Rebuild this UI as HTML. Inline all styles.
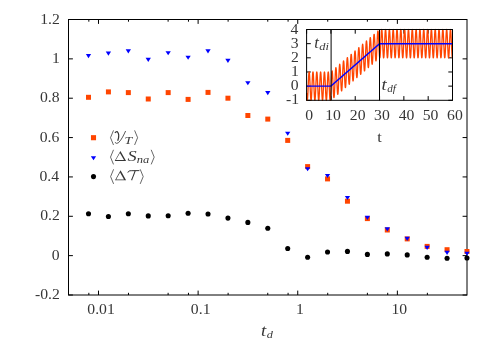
<!DOCTYPE html>
<html><head><meta charset="utf-8"><title>plot</title>
<style>
html,body{margin:0;padding:0;background:#fff;}
body{width:491px;height:344px;overflow:hidden;}
svg{display:block;will-change:transform;}
text{font-family:"Liberation Serif",serif;font-size:14.67px;fill:#363636;}
.i{font-style:italic;}
</style></head><body>
<svg width="491" height="344" viewBox="0 0 491 344">
<rect x="0" y="0" width="491" height="344" fill="#fff"/>
<g stroke="#000" stroke-width="1" fill="none">
<rect x="68.5" y="19.5" width="398.5" height="275.5"/>
<path d="M68.5 295.00h4.4M467.0 295.00h-4.4"/>
<path d="M68.5 255.64h4.4M467.0 255.64h-4.4"/>
<path d="M68.5 216.29h4.4M467.0 216.29h-4.4"/>
<path d="M68.5 176.93h4.4M467.0 176.93h-4.4"/>
<path d="M68.5 137.57h4.4M467.0 137.57h-4.4"/>
<path d="M68.5 98.21h4.4M467.0 98.21h-4.4"/>
<path d="M68.5 58.86h4.4M467.0 58.86h-4.4"/>
<path d="M68.5 19.50h4.4M467.0 19.50h-4.4"/>
<path d="M88.84 295.0v-2.2M88.84 19.5v2.2"/>
<path d="M98.49 295.0v-4.4M98.49 19.5v4.4"/>
<path d="M128.48 295.0v-2.2M128.48 19.5v2.2"/>
<path d="M168.12 295.0v-2.2M168.12 19.5v2.2"/>
<path d="M188.46 295.0v-2.2M188.46 19.5v2.2"/>
<path d="M198.12 295.0v-4.4M198.12 19.5v4.4"/>
<path d="M228.11 295.0v-2.2M228.11 19.5v2.2"/>
<path d="M267.75 295.0v-2.2M267.75 19.5v2.2"/>
<path d="M288.09 295.0v-2.2M288.09 19.5v2.2"/>
<path d="M297.74 295.0v-4.4M297.74 19.5v4.4"/>
<path d="M327.73 295.0v-2.2M327.73 19.5v2.2"/>
<path d="M367.38 295.0v-2.2M367.38 19.5v2.2"/>
<path d="M387.71 295.0v-2.2M387.71 19.5v2.2"/>
<path d="M397.37 295.0v-4.4M397.37 19.5v4.4"/>
<path d="M427.36 295.0v-2.2M427.36 19.5v2.2"/>
</g>
<text transform="translate(34.96 299.10) scale(1.070 1.05)" style="font-size:14.67px">-0.2</text>
<text transform="translate(51.68 259.74) scale(1.070 1.05)" style="font-size:14.67px">0</text>
<text transform="translate(40.14 220.39) scale(1.070 1.05)" style="font-size:14.67px">0.2</text>
<text transform="translate(39.51 181.03) scale(1.070 1.05)" style="font-size:14.67px">0.4</text>
<text transform="translate(39.75 141.67) scale(1.070 1.05)" style="font-size:14.67px">0.6</text>
<text transform="translate(39.91 102.31) scale(1.070 1.05)" style="font-size:14.67px">0.8</text>
<text transform="translate(51.99 62.96) scale(1.070 1.05)" style="font-size:14.67px">1</text>
<text transform="translate(40.14 23.60) scale(1.070 1.05)" style="font-size:14.67px">1.2</text>
<text transform="translate(87.31 314.00) scale(1.070 1.05)" style="font-size:14.67px">0.01</text>
<text transform="translate(190.86 314.00) scale(1.070 1.05)" style="font-size:14.67px">0.1</text>
<text transform="translate(295.98 314.00) scale(1.070 1.05)" style="font-size:14.67px">1</text>
<text transform="translate(391.52 314.00) scale(1.070 1.05)" style="font-size:14.67px">10</text>
<text transform="translate(261.05 336.30) scale(1.282 1.14)" style="font-size:14.67px" class="i">t</text>
<text transform="translate(266.83 338.40) scale(1.175 1)" style="font-size:10.5px" class="i">d</text>
<g fill="#ff4500">
<rect x="86.00" y="94.80" width="5" height="5"/>
<rect x="105.92" y="89.40" width="5" height="5"/>
<rect x="125.84" y="90.10" width="5" height="5"/>
<rect x="145.76" y="96.50" width="5" height="5"/>
<rect x="165.68" y="90.10" width="5" height="5"/>
<rect x="185.60" y="96.90" width="5" height="5"/>
<rect x="205.52" y="89.90" width="5" height="5"/>
<rect x="225.44" y="95.70" width="5" height="5"/>
<rect x="245.36" y="113.00" width="5" height="5"/>
<rect x="265.28" y="116.60" width="5" height="5"/>
<rect x="285.20" y="137.90" width="5" height="5"/>
<rect x="305.12" y="164.10" width="5" height="5"/>
<rect x="325.04" y="176.40" width="5" height="5"/>
<rect x="344.96" y="198.70" width="5" height="5"/>
<rect x="364.88" y="216.10" width="5" height="5"/>
<rect x="384.80" y="227.50" width="5" height="5"/>
<rect x="404.72" y="236.40" width="5" height="5"/>
<rect x="424.64" y="243.90" width="5" height="5"/>
<rect x="444.56" y="247.20" width="5" height="5"/>
<rect x="464.48" y="249.00" width="5" height="5"/>
</g>
<g fill="#0000ff">
<path d="M85.85 54.05h5.3L88.50 58.15z"/>
<path d="M105.77 51.55h5.3L108.42 55.65z"/>
<path d="M125.69 49.35h5.3L128.34 53.45z"/>
<path d="M145.61 57.85h5.3L148.26 61.95z"/>
<path d="M165.53 51.25h5.3L168.18 55.35z"/>
<path d="M185.45 55.65h5.3L188.10 59.75z"/>
<path d="M205.37 49.35h5.3L208.02 53.45z"/>
<path d="M225.29 58.85h5.3L227.94 62.95z"/>
<path d="M245.21 81.15h5.3L247.86 85.25z"/>
<path d="M265.13 91.05h5.3L267.78 95.15z"/>
<path d="M285.05 131.75h5.3L287.70 135.85z"/>
<path d="M304.97 167.25h5.3L307.62 171.35z"/>
<path d="M324.89 173.95h5.3L327.54 178.05z"/>
<path d="M344.81 195.95h5.3L347.46 200.05z"/>
<path d="M364.73 215.85h5.3L367.38 219.95z"/>
<path d="M384.65 227.35h5.3L387.30 231.45z"/>
<path d="M404.57 236.85h5.3L407.22 240.95z"/>
<path d="M424.49 245.85h5.3L427.14 249.95z"/>
<path d="M444.41 250.85h5.3L447.06 254.95z"/>
<path d="M464.33 251.75h5.3L466.98 255.85z"/>
</g>
<g fill="#000">
<circle cx="88.50" cy="213.80" r="2.55"/>
<circle cx="108.42" cy="216.50" r="2.55"/>
<circle cx="128.34" cy="213.80" r="2.55"/>
<circle cx="148.26" cy="215.90" r="2.55"/>
<circle cx="168.18" cy="215.70" r="2.55"/>
<circle cx="188.10" cy="213.20" r="2.55"/>
<circle cx="208.02" cy="214.05" r="2.55"/>
<circle cx="227.94" cy="218.10" r="2.55"/>
<circle cx="247.86" cy="222.40" r="2.55"/>
<circle cx="267.78" cy="228.30" r="2.55"/>
<circle cx="287.70" cy="248.50" r="2.55"/>
<circle cx="307.62" cy="257.30" r="2.55"/>
<circle cx="327.54" cy="252.00" r="2.55"/>
<circle cx="347.46" cy="251.40" r="2.55"/>
<circle cx="367.38" cy="254.40" r="2.55"/>
<circle cx="387.30" cy="253.90" r="2.55"/>
<circle cx="407.22" cy="254.90" r="2.55"/>
<circle cx="427.14" cy="257.20" r="2.55"/>
<circle cx="447.06" cy="258.20" r="2.55"/>
<circle cx="466.98" cy="258.00" r="2.55"/>
</g>
<rect x="90.95" y="135.14999999999998" width="5.1" height="5.1" fill="#ff4500"/>
<g fill="#0000ff"><path d="M90.85 156.15h5.3L93.50 160.25z"/></g>
<circle cx="93.5" cy="176.6" r="2.55" fill="#000"/>
<g stroke="#363636" stroke-width="0.75" fill="none" stroke-linejoin="miter">
<path d="M113.50 130.40L110.50 137.70L113.50 145.00"/>
<path d="M134.60 130.40L137.60 137.70L134.60 145.00"/>
<path d="M113.50 149.80L110.50 157.10L113.50 164.40"/>
<path d="M151.20 149.80L154.20 157.10L151.20 164.40"/>
<path d="M113.60 169.30L110.60 176.60L113.60 183.90"/>
<path d="M140.20 169.30L143.20 176.60L140.20 183.90"/>
<path d="M114.9 132.9Q115.9 131.4 117.2 131.6C118.7 133 119.1 137 117.7 140.8" stroke-width="1.25"/>
<path d="M125.6 131.0C124 134.5 121.5 140 118.5 142.7Q116.6 144.2 114.9 142.4" stroke-width="0.85"/>
<path d="M127.9 172.6C128.2 171.1 129.4 170.7 131.2 170.7L139.4 170.6" stroke-width="1.0"/>
<path d="M135.2 170.7C134.4 173.6 132.6 177.4 131.6 180.2" stroke-width="1.1"/>
</g>
<path fill="#363636" stroke="none" fill-rule="evenodd" d="M114.70 160.90L120.40 150.90L126.10 160.90ZM115.88 160.05L119.92 152.96L123.97 160.05Z"/>
<path fill="#363636" stroke="none" fill-rule="evenodd" d="M115.00 180.30L120.55 170.30L126.10 180.30ZM116.17 179.45L120.08 172.42L123.98 179.45Z"/>
<text transform="translate(124.50 143.90) scale(1.316 1)" style="font-size:10.5px" class="i">T</text>
<text transform="translate(127.62 160.90) scale(1.249 1)" style="font-size:14.67px" class="i">S</text>
<text transform="translate(136.66 162.90) scale(1.194 1)" style="font-size:10.5px" class="i">na</text>
<g stroke="#000" stroke-width="1" fill="none">
<path d="M306.6 100.30h4.2M452.5 100.30h-4.2"/>
<path d="M306.6 86.14h4.2M452.5 86.14h-4.2"/>
<path d="M306.6 71.98h4.2M452.5 71.98h-4.2"/>
<path d="M306.6 57.82h4.2M452.5 57.82h-4.2"/>
<path d="M306.6 43.66h4.2M452.5 43.66h-4.2"/>
<path d="M306.6 29.50h4.2M452.5 29.50h-4.2"/>
<path d="M306.60 100.3v-4.2M306.60 29.5v4.2"/>
<path d="M330.92 100.3v-4.2M330.92 29.5v4.2"/>
<path d="M355.23 100.3v-4.2M355.23 29.5v4.2"/>
<path d="M379.55 100.3v-4.2M379.55 29.5v4.2"/>
<path d="M403.87 100.3v-4.2M403.87 29.5v4.2"/>
<path d="M428.18 100.3v-4.2M428.18 29.5v4.2"/>
<path d="M452.50 100.3v-4.2M452.50 29.5v4.2"/>
</g>
<path d="M306.60 93.08 L306.66 94.28 L306.72 95.40 L306.78 96.42 L306.84 97.34 L306.90 98.15 L306.96 98.84 L307.03 99.40 L307.09 99.83 L307.15 100.12 L307.21 100.28 L307.27 100.29 L307.33 100.16 L307.39 99.89 L307.45 99.48 L307.51 98.94 L307.57 98.27 L307.63 97.48 L307.69 96.58 L307.76 95.57 L307.82 94.47 L307.88 93.29 L307.94 92.03 L308.00 90.72 L308.06 89.36 L308.12 87.96 L308.18 86.55 L308.24 85.14 L308.30 83.73 L308.36 82.35 L308.42 81.01 L308.48 79.72 L308.55 78.49 L308.61 77.34 L308.67 76.27 L308.73 75.31 L308.79 74.45 L308.85 73.71 L308.91 73.10 L308.97 72.61 L309.03 72.26 L309.09 72.05 L309.15 71.98 L309.21 72.05 L309.27 72.26 L309.34 72.61 L309.40 73.10 L309.46 73.71 L309.52 74.45 L309.58 75.31 L309.64 76.27 L309.70 77.34 L309.76 78.49 L309.82 79.72 L309.88 81.01 L309.94 82.35 L310.00 83.73 L310.07 85.14 L310.13 86.55 L310.19 87.96 L310.25 89.36 L310.31 90.72 L310.37 92.03 L310.43 93.29 L310.49 94.47 L310.55 95.57 L310.61 96.58 L310.67 97.48 L310.73 98.27 L310.79 98.94 L310.86 99.48 L310.92 99.89 L310.98 100.16 L311.04 100.29 L311.10 100.28 L311.16 100.12 L311.22 99.83 L311.28 99.40 L311.34 98.84 L311.40 98.15 L311.46 97.34 L311.52 96.42 L311.58 95.40 L311.65 94.28 L311.71 93.08 L311.77 91.82 L311.83 90.49 L311.89 89.12 L311.95 87.73 L312.01 86.32 L312.07 84.90 L312.13 83.50 L312.19 82.12 L312.25 80.79 L312.31 79.51 L312.38 78.29 L312.44 77.15 L312.50 76.11 L312.56 75.16 L312.62 74.32 L312.68 73.60 L312.74 73.01 L312.80 72.54 L312.86 72.22 L312.92 72.03 L312.98 71.98 L313.04 72.08 L313.10 72.31 L313.17 72.68 L313.23 73.19 L313.29 73.83 L313.35 74.59 L313.41 75.46 L313.47 76.45 L313.53 77.53 L313.59 78.69 L313.65 79.93 L313.71 81.23 L313.77 82.58 L313.83 83.97 L313.90 85.38 L313.96 86.79 L314.02 88.20 L314.08 89.59 L314.14 90.94 L314.20 92.25 L314.26 93.49 L314.32 94.66 L314.38 95.75 L314.44 96.74 L314.50 97.63 L314.56 98.39 L314.62 99.04 L314.69 99.56 L314.75 99.94 L314.81 100.19 L314.87 100.30 L314.93 100.26 L314.99 100.08 L315.05 99.77 L315.11 99.31 L315.17 98.73 L315.23 98.02 L315.29 97.19 L315.35 96.25 L315.41 95.21 L315.48 94.08 L315.54 92.87 L315.60 91.60 L315.66 90.26 L315.72 88.89 L315.78 87.49 L315.84 86.08 L315.90 84.66 L315.96 83.27 L316.02 81.90 L316.08 80.57 L316.14 79.30 L316.21 78.09 L316.27 76.97 L316.33 75.94 L316.39 75.01 L316.45 74.19 L316.51 73.49 L316.57 72.92 L316.63 72.48 L316.69 72.18 L316.75 72.01 L316.81 71.99 L316.87 72.11 L316.93 72.36 L317.00 72.76 L317.06 73.29 L317.12 73.95 L317.18 74.73 L317.24 75.62 L317.30 76.62 L317.36 77.72 L317.42 78.89 L317.48 80.15 L317.54 81.46 L317.60 82.81 L317.66 84.20 L317.72 85.61 L317.79 87.03 L317.85 88.44 L317.91 89.82 L317.97 91.17 L318.03 92.46 L318.09 93.70 L318.15 94.85 L318.21 95.92 L318.27 96.90 L318.33 97.76 L318.39 98.51 L318.45 99.14 L318.52 99.63 L318.58 99.99 L318.64 100.22 L318.70 100.30 L318.76 100.24 L318.82 100.04 L318.88 99.70 L318.94 99.23 L319.00 98.62 L319.06 97.89 L319.12 97.04 L319.18 96.09 L319.24 95.03 L319.31 93.89 L319.37 92.66 L319.43 91.38 L319.49 90.04 L319.55 88.66 L319.61 87.25 L319.67 85.84 L319.73 84.43 L319.79 83.03 L319.85 81.67 L319.91 80.35 L319.97 79.09 L320.03 77.90 L320.10 76.79 L320.16 75.78 L320.22 74.86 L320.28 74.06 L320.34 73.39 L320.40 72.84 L320.46 72.42 L320.52 72.14 L320.58 72.00 L320.64 72.00 L320.70 72.14 L320.76 72.42 L320.83 72.84 L320.89 73.39 L320.95 74.07 L321.01 74.87 L321.07 75.78 L321.13 76.80 L321.19 77.91 L321.25 79.10 L321.31 80.36 L321.37 81.68 L321.43 83.05 L321.49 84.44 L321.55 85.85 L321.62 87.27 L321.68 88.67 L321.74 90.05 L321.80 91.39 L321.86 92.67 L321.92 93.90 L321.98 95.04 L322.04 96.09 L322.10 97.05 L322.16 97.90 L322.22 98.63 L322.28 99.23 L322.35 99.70 L322.41 100.04 L322.47 100.24 L322.53 100.30 L322.59 100.22 L322.65 99.99 L322.71 99.63 L322.77 99.13 L322.83 98.51 L322.89 97.76 L322.95 96.89 L323.01 95.92 L323.07 94.84 L323.14 93.68 L323.20 92.45 L323.26 91.15 L323.32 89.81 L323.38 88.42 L323.44 87.02 L323.50 85.60 L323.56 84.19 L323.62 82.80 L323.68 81.44 L323.74 80.13 L323.80 78.88 L323.86 77.71 L323.93 76.61 L323.99 75.61 L324.05 74.72 L324.11 73.94 L324.17 73.29 L324.23 72.76 L324.29 72.36 L324.35 72.10 L324.41 71.99 L324.47 72.01 L324.53 72.18 L324.59 72.48 L324.66 72.92 L324.72 73.50 L324.78 74.20 L324.84 75.02 L324.90 75.95 L324.96 76.98 L325.02 78.10 L325.08 79.31 L325.14 80.58 L325.20 81.91 L325.26 83.28 L325.32 84.68 L325.38 86.09 L325.45 87.50 L325.51 88.90 L325.57 90.28 L325.63 91.61 L325.69 92.88 L325.75 94.09 L325.81 95.22 L325.87 96.26 L325.93 97.20 L325.99 98.03 L326.05 98.74 L326.11 99.32 L326.17 99.77 L326.24 100.09 L326.30 100.26 L326.36 100.30 L326.42 100.19 L326.48 99.94 L326.54 99.56 L326.60 99.04 L326.66 98.39 L326.72 97.62 L326.78 96.73 L326.84 95.74 L326.90 94.65 L326.97 93.48 L327.03 92.24 L327.09 90.93 L327.15 89.58 L327.21 88.19 L327.27 86.78 L327.33 85.36 L327.39 83.96 L327.45 82.57 L327.51 81.22 L327.57 79.92 L327.63 78.68 L327.69 77.52 L327.76 76.44 L327.82 75.46 L327.88 74.58 L327.94 73.82 L328.00 73.19 L328.06 72.68 L328.12 72.31 L328.18 72.08 L328.24 71.98 L328.30 72.03 L328.36 72.22 L328.42 72.55 L328.49 73.01 L328.55 73.61 L328.61 74.33 L328.67 75.17 L328.73 76.11 L328.79 77.16 L328.85 78.30 L328.91 79.52 L328.97 80.80 L329.03 82.14 L329.09 83.51 L329.15 84.91 L329.21 86.33 L329.28 87.74 L329.34 89.14 L329.40 90.50 L329.46 91.83 L329.52 93.09 L329.58 94.29 L329.64 95.41 L329.70 96.43 L329.76 97.35 L329.82 98.16 L329.88 98.84 L329.94 99.40 L330.00 99.83 L330.07 100.12 L330.13 100.28 L330.19 100.29 L330.25 100.16 L330.31 99.89 L330.37 99.48 L330.43 98.94 L330.49 98.27 L330.55 97.48 L330.61 96.57 L330.67 95.57 L330.73 94.46 L330.80 93.28 L330.86 92.02 L330.92 90.71 L330.98 89.29 L331.04 87.85 L331.10 86.38 L331.16 84.91 L331.22 83.46 L331.28 82.02 L331.34 80.63 L331.40 79.28 L331.46 78.00 L331.52 76.80 L331.59 75.68 L331.65 74.66 L331.71 73.76 L331.77 72.96 L331.83 72.30 L331.89 71.76 L331.95 71.36 L332.01 71.09 L332.07 70.97 L332.13 70.99 L332.19 71.15 L332.25 71.45 L332.31 71.88 L332.38 72.45 L332.44 73.13 L332.50 73.94 L332.56 74.85 L332.62 75.86 L332.68 76.96 L332.74 78.14 L332.80 79.37 L332.86 80.67 L332.92 81.99 L332.98 83.35 L333.04 84.71 L333.11 86.07 L333.17 87.40 L333.23 88.71 L333.29 89.97 L333.35 91.18 L333.41 92.31 L333.47 93.35 L333.53 94.31 L333.59 95.16 L333.65 95.89 L333.71 96.50 L333.77 96.99 L333.83 97.34 L333.90 97.56 L333.96 97.63 L334.02 97.57 L334.08 97.36 L334.14 97.01 L334.20 96.53 L334.26 95.91 L334.32 95.17 L334.38 94.31 L334.44 93.33 L334.50 92.25 L334.56 91.08 L334.62 89.83 L334.69 88.51 L334.75 87.13 L334.81 85.71 L334.87 84.26 L334.93 82.80 L334.99 81.33 L335.05 79.88 L335.11 78.45 L335.17 77.06 L335.23 75.72 L335.29 74.46 L335.35 73.27 L335.42 72.17 L335.48 71.17 L335.54 70.28 L335.60 69.51 L335.66 68.86 L335.72 68.35 L335.78 67.97 L335.84 67.73 L335.90 67.63 L335.96 67.67 L336.02 67.85 L336.08 68.18 L336.14 68.63 L336.21 69.22 L336.27 69.92 L336.33 70.75 L336.39 71.68 L336.45 72.70 L336.51 73.82 L336.57 75.00 L336.63 76.25 L336.69 77.55 L336.75 78.88 L336.81 80.24 L336.87 81.60 L336.94 82.96 L337.00 84.29 L337.06 85.59 L337.12 86.84 L337.18 88.03 L337.24 89.15 L337.30 90.18 L337.36 91.12 L337.42 91.95 L337.48 92.67 L337.54 93.26 L337.60 93.72 L337.66 94.05 L337.73 94.24 L337.79 94.30 L337.85 94.21 L337.91 93.97 L337.97 93.60 L338.03 93.10 L338.09 92.46 L338.15 91.70 L338.21 90.81 L338.27 89.82 L338.33 88.73 L338.39 87.54 L338.45 86.28 L338.52 84.95 L338.58 83.56 L338.64 82.14 L338.70 80.68 L338.76 79.21 L338.82 77.75 L338.88 76.30 L338.94 74.87 L339.00 73.49 L339.06 72.17 L339.12 70.91 L339.18 69.74 L339.25 68.66 L339.31 67.67 L339.37 66.80 L339.43 66.05 L339.49 65.43 L339.55 64.94 L339.61 64.58 L339.67 64.36 L339.73 64.29 L339.79 64.36 L339.85 64.56 L339.91 64.91 L339.97 65.38 L340.04 65.99 L340.10 66.72 L340.16 67.56 L340.22 68.51 L340.28 69.55 L340.34 70.67 L340.40 71.87 L340.46 73.13 L340.52 74.44 L340.58 75.77 L340.64 77.13 L340.70 78.49 L340.76 79.85 L340.83 81.18 L340.89 82.47 L340.95 83.71 L341.01 84.89 L341.07 86.00 L341.13 87.01 L341.19 87.93 L341.25 88.74 L341.31 89.44 L341.37 90.01 L341.43 90.45 L341.49 90.76 L341.56 90.93 L341.62 90.95 L341.68 90.84 L341.74 90.59 L341.80 90.19 L341.86 89.66 L341.92 89.00 L341.98 88.22 L342.04 87.32 L342.10 86.31 L342.16 85.20 L342.22 84.00 L342.28 82.72 L342.35 81.38 L342.41 79.99 L342.47 78.56 L342.53 77.10 L342.59 75.63 L342.65 74.17 L342.71 72.72 L342.77 71.30 L342.83 69.93 L342.89 68.62 L342.95 67.37 L343.01 66.21 L343.08 65.15 L343.14 64.18 L343.20 63.33 L343.26 62.60 L343.32 62.00 L343.38 61.53 L343.44 61.20 L343.50 61.01 L343.56 60.95 L343.62 61.04 L343.68 61.27 L343.74 61.64 L343.80 62.14 L343.87 62.77 L343.93 63.52 L343.99 64.38 L344.05 65.34 L344.11 66.40 L344.17 67.53 L344.23 68.74 L344.29 70.01 L344.35 71.32 L344.41 72.66 L344.47 74.02 L344.53 75.38 L344.59 76.74 L344.66 78.06 L344.72 79.35 L344.78 80.58 L344.84 81.75 L344.90 82.84 L344.96 83.84 L345.02 84.74 L345.08 85.53 L345.14 86.21 L345.20 86.76 L345.26 87.18 L345.32 87.46 L345.39 87.60 L345.45 87.61 L345.51 87.47 L345.57 87.19 L345.63 86.78 L345.69 86.22 L345.75 85.54 L345.81 84.74 L345.87 83.82 L345.93 82.79 L345.99 81.66 L346.05 80.45 L346.11 79.16 L346.18 77.81 L346.24 76.41 L346.30 74.98 L346.36 73.52 L346.42 72.05 L346.48 70.59 L346.54 69.14 L346.60 67.73 L346.66 66.37 L346.72 65.07 L346.78 63.84 L346.84 62.69 L346.90 61.64 L346.97 60.70 L347.03 59.86 L347.09 59.16 L347.15 58.57 L347.21 58.13 L347.27 57.82 L347.33 57.65 L347.39 57.62 L347.45 57.74 L347.51 57.99 L347.57 58.38 L347.63 58.90 L347.70 59.55 L347.76 60.32 L347.82 61.19 L347.88 62.17 L347.94 63.25 L348.00 64.40 L348.06 65.62 L348.12 66.89 L348.18 68.21 L348.24 69.56 L348.30 70.92 L348.36 72.28 L348.42 73.62 L348.49 74.94 L348.55 76.22 L348.61 77.44 L348.67 78.60 L348.73 79.68 L348.79 80.66 L348.85 81.54 L348.91 82.32 L348.97 82.97 L349.03 83.50 L349.09 83.90 L349.15 84.16 L349.21 84.28 L349.28 84.26 L349.34 84.10 L349.40 83.80 L349.46 83.36 L349.52 82.78 L349.58 82.08 L349.64 81.26 L349.70 80.32 L349.76 79.27 L349.82 78.13 L349.88 76.90 L349.94 75.61 L350.01 74.25 L350.07 72.84 L350.13 71.40 L350.19 69.93 L350.25 68.47 L350.31 67.00 L350.37 65.57 L350.43 64.16 L350.49 62.81 L350.55 61.52 L350.61 60.30 L350.67 59.17 L350.73 58.14 L350.80 57.21 L350.86 56.40 L350.92 55.71 L350.98 55.15 L351.04 54.73 L351.10 54.44 L351.16 54.30 L351.22 54.30 L351.28 54.43 L351.34 54.71 L351.40 55.12 L351.46 55.66 L351.53 56.33 L351.59 57.12 L351.65 58.02 L351.71 59.01 L351.77 60.10 L351.83 61.26 L351.89 62.49 L351.95 63.77 L352.01 65.10 L352.07 66.45 L352.13 67.81 L352.19 69.17 L352.25 70.51 L352.32 71.82 L352.38 73.09 L352.44 74.31 L352.50 75.45 L352.56 76.51 L352.62 77.48 L352.68 78.35 L352.74 79.10 L352.80 79.73 L352.86 80.24 L352.92 80.61 L352.98 80.85 L353.04 80.95 L353.11 80.91 L353.17 80.72 L353.23 80.40 L353.29 79.93 L353.35 79.34 L353.41 78.61 L353.47 77.77 L353.53 76.81 L353.59 75.75 L353.65 74.59 L353.71 73.35 L353.77 72.04 L353.84 70.68 L353.90 69.26 L353.96 67.81 L354.02 66.35 L354.08 64.88 L354.14 63.42 L354.20 61.99 L354.26 60.60 L354.32 59.25 L354.38 57.97 L354.44 56.77 L354.50 55.65 L354.56 54.64 L354.63 53.73 L354.69 52.94 L354.75 52.27 L354.81 51.74 L354.87 51.34 L354.93 51.07 L354.99 50.95 L355.05 50.97 L355.11 51.13 L355.17 51.43 L355.23 51.87 L355.29 52.43 L355.35 53.12 L355.42 53.93 L355.48 54.84 L355.54 55.85 L355.60 56.95 L355.66 58.13 L355.72 59.37 L355.78 60.66 L355.84 61.99 L355.90 63.34 L355.96 64.70 L356.02 66.06 L356.08 67.40 L356.15 68.71 L356.21 69.97 L356.27 71.17 L356.33 72.30 L356.39 73.34 L356.45 74.30 L356.51 75.14 L356.57 75.88 L356.63 76.49 L356.69 76.98 L356.75 77.33 L356.81 77.54 L356.87 77.62 L356.94 77.55 L357.00 77.34 L357.06 76.99 L357.12 76.51 L357.18 75.89 L357.24 75.14 L357.30 74.28 L357.36 73.30 L357.42 72.22 L357.48 71.05 L357.54 69.80 L357.60 68.48 L357.67 67.10 L357.73 65.68 L357.79 64.23 L357.85 62.77 L357.91 61.30 L357.97 59.84 L358.03 58.42 L358.09 57.03 L358.15 55.69 L358.21 54.43 L358.27 53.24 L358.33 52.14 L358.39 51.14 L358.46 50.25 L358.52 49.48 L358.58 48.84 L358.64 48.32 L358.70 47.95 L358.76 47.71 L358.82 47.61 L358.88 47.65 L358.94 47.84 L359.00 48.16 L359.06 48.62 L359.12 49.20 L359.18 49.91 L359.25 50.74 L359.31 51.67 L359.37 52.69 L359.43 53.81 L359.49 55.00 L359.55 56.25 L359.61 57.54 L359.67 58.88 L359.73 60.23 L359.79 61.59 L359.85 62.95 L359.91 64.28 L359.98 65.58 L360.04 66.84 L360.10 68.03 L360.16 69.14 L360.22 70.17 L360.28 71.11 L360.34 71.94 L360.40 72.65 L360.46 73.25 L360.52 73.71 L360.58 74.04 L360.64 74.23 L360.70 74.28 L360.77 74.19 L360.83 73.95 L360.89 73.58 L360.95 73.07 L361.01 72.43 L361.07 71.67 L361.13 70.79 L361.19 69.79 L361.25 68.70 L361.31 67.51 L361.37 66.25 L361.43 64.92 L361.49 63.53 L361.56 62.10 L361.62 60.65 L361.68 59.18 L361.74 57.72 L361.80 56.27 L361.86 54.84 L361.92 53.46 L361.98 52.14 L362.04 50.89 L362.10 49.71 L362.16 48.63 L362.22 47.65 L362.29 46.78 L362.35 46.03 L362.41 45.40 L362.47 44.91 L362.53 44.56 L362.59 44.34 L362.65 44.27 L362.71 44.34 L362.77 44.55 L362.83 44.89 L362.89 45.37 L362.95 45.98 L363.01 46.71 L363.08 47.55 L363.14 48.50 L363.20 49.54 L363.26 50.67 L363.32 51.87 L363.38 53.12 L363.44 54.43 L363.50 55.77 L363.56 57.12 L363.62 58.49 L363.68 59.84 L363.74 61.17 L363.80 62.46 L363.87 63.70 L363.93 64.88 L363.99 65.99 L364.05 67.00 L364.11 67.92 L364.17 68.73 L364.23 69.43 L364.29 70.00 L364.35 70.44 L364.41 70.74 L364.47 70.91 L364.53 70.94 L364.60 70.82 L364.66 70.56 L364.72 70.17 L364.78 69.64 L364.84 68.98 L364.90 68.19 L364.96 67.29 L365.02 66.28 L365.08 65.17 L365.14 63.97 L365.20 62.69 L365.26 61.35 L365.32 59.96 L365.39 58.53 L365.45 57.07 L365.51 55.60 L365.57 54.14 L365.63 52.69 L365.69 51.27 L365.75 49.90 L365.81 48.59 L365.87 47.35 L365.93 46.19 L365.99 45.12 L366.05 44.16 L366.12 43.31 L366.18 42.58 L366.24 41.98 L366.30 41.51 L366.36 41.18 L366.42 40.99 L366.48 40.94 L366.54 41.03 L366.60 41.26 L366.66 41.63 L366.72 42.13 L366.78 42.76 L366.84 43.50 L366.91 44.37 L366.97 45.33 L367.03 46.39 L367.09 47.53 L367.15 48.74 L367.21 50.00 L367.27 51.32 L367.33 52.66 L367.39 54.02 L367.45 55.38 L367.51 56.73 L367.57 58.05 L367.63 59.34 L367.70 60.57 L367.76 61.74 L367.82 62.83 L367.88 63.83 L367.94 64.73 L368.00 65.52 L368.06 66.19 L368.12 66.74 L368.18 67.16 L368.24 67.44 L368.30 67.59 L368.36 67.59 L368.43 67.45 L368.49 67.17 L368.55 66.75 L368.61 66.20 L368.67 65.52 L368.73 64.71 L368.79 63.79 L368.85 62.76 L368.91 61.64 L368.97 60.42 L369.03 59.13 L369.09 57.78 L369.15 56.38 L369.22 54.95 L369.28 53.49 L369.34 52.02 L369.40 50.55 L369.46 49.11 L369.52 47.70 L369.58 46.34 L369.64 45.04 L369.70 43.81 L369.76 42.66 L369.82 41.61 L369.88 40.67 L369.94 39.84 L370.01 39.13 L370.07 38.55 L370.13 38.11 L370.19 37.80 L370.25 37.63 L370.31 37.60 L370.37 37.72 L370.43 37.97 L370.49 38.37 L370.55 38.89 L370.61 39.54 L370.67 40.31 L370.74 41.18 L370.80 42.17 L370.86 43.24 L370.92 44.39 L370.98 45.61 L371.04 46.89 L371.10 48.20 L371.16 49.55 L371.22 50.91 L371.28 52.27 L371.34 53.62 L371.40 54.94 L371.46 56.21 L371.53 57.44 L371.59 58.59 L371.65 59.67 L371.71 60.65 L371.77 61.53 L371.83 62.31 L371.89 62.96 L371.95 63.49 L372.01 63.88 L372.07 64.14 L372.13 64.26 L372.19 64.24 L372.25 64.08 L372.32 63.77 L372.38 63.33 L372.44 62.76 L372.50 62.06 L372.56 61.23 L372.62 60.29 L372.68 59.24 L372.74 58.10 L372.80 56.87 L372.86 55.58 L372.92 54.21 L372.98 52.81 L373.05 51.36 L373.11 49.90 L373.17 48.43 L373.23 46.97 L373.29 45.53 L373.35 44.13 L373.41 42.78 L373.47 41.49 L373.53 40.27 L373.59 39.14 L373.65 38.11 L373.71 37.19 L373.77 36.38 L373.84 35.69 L373.90 35.13 L373.96 34.71 L374.02 34.42 L374.08 34.28 L374.14 34.28 L374.20 34.42 L374.26 34.69 L374.32 35.11 L374.38 35.65 L374.44 36.32 L374.50 37.11 L374.57 38.01 L374.63 39.00 L374.69 40.09 L374.75 41.25 L374.81 42.48 L374.87 43.77 L374.93 45.09 L374.99 46.44 L375.05 47.80 L375.11 49.16 L375.17 50.50 L375.23 51.82 L375.29 53.09 L375.36 54.30 L375.42 55.44 L375.48 56.50 L375.54 57.47 L375.60 58.33 L375.66 59.09 L375.72 59.72 L375.78 60.23 L375.84 60.60 L375.90 60.83 L375.96 60.93 L376.02 60.89 L376.08 60.70 L376.15 60.37 L376.21 59.91 L376.27 59.31 L376.33 58.59 L376.39 57.74 L376.45 56.78 L376.51 55.72 L376.57 54.56 L376.63 53.32 L376.69 52.01 L376.75 50.64 L376.81 49.23 L376.88 47.78 L376.94 46.32 L377.00 44.85 L377.06 43.39 L377.12 41.96 L377.18 40.56 L377.24 39.22 L377.30 37.94 L377.36 36.74 L377.42 35.63 L377.48 34.61 L377.54 33.70 L377.60 32.91 L377.67 32.25 L377.73 31.71 L377.79 31.31 L377.85 31.05 L377.91 30.93 L377.97 30.96 L378.03 31.12 L378.09 31.42 L378.15 31.85 L378.21 32.42 L378.27 33.11 L378.33 33.92 L378.39 34.83 L378.46 35.84 L378.52 36.94 L378.58 38.12 L378.64 39.36 L378.70 40.65 L378.76 41.98 L378.82 43.33 L378.88 44.70 L378.94 46.05 L379.00 47.39 L379.06 48.70 L379.12 49.96 L379.19 51.16 L379.25 52.29 L379.31 53.33 L379.37 54.29 L379.43 55.13 L379.49 55.87 L379.55 56.48 L379.61 57.01 L379.67 57.42 L379.73 57.68 L379.79 57.81 L379.85 57.79 L379.91 57.64 L379.98 57.34 L380.04 56.91 L380.10 56.34 L380.16 55.65 L380.22 54.84 L380.28 53.91 L380.34 52.89 L380.40 51.77 L380.46 50.57 L380.52 49.30 L380.58 47.98 L380.64 46.61 L380.71 45.21 L380.77 43.80 L380.83 42.38 L380.89 40.98 L380.95 39.61 L381.01 38.27 L381.07 36.99 L381.13 35.78 L381.19 34.64 L381.25 33.60 L381.31 32.65 L381.37 31.82 L381.43 31.10 L381.50 30.51 L381.56 30.05 L381.62 29.73 L381.68 29.55 L381.74 29.50 L381.80 29.60 L381.86 29.84 L381.92 30.22 L381.98 30.73 L382.04 31.37 L382.10 32.13 L382.16 33.01 L382.22 33.99 L382.29 35.08 L382.35 36.24 L382.41 37.48 L382.47 38.79 L382.53 40.14 L382.59 41.53 L382.65 42.93 L382.71 44.35 L382.77 45.76 L382.83 47.15 L382.89 48.50 L382.95 49.80 L383.02 51.05 L383.08 52.21 L383.14 53.30 L383.20 54.29 L383.26 55.17 L383.32 55.93 L383.38 56.58 L383.44 57.09 L383.50 57.47 L383.56 57.71 L383.62 57.82 L383.68 57.78 L383.74 57.60 L383.81 57.28 L383.87 56.82 L383.93 56.23 L383.99 55.52 L384.05 54.69 L384.11 53.75 L384.17 52.71 L384.23 51.57 L384.29 50.36 L384.35 49.08 L384.41 47.75 L384.47 46.37 L384.53 44.97 L384.60 43.56 L384.66 42.15 L384.72 40.75 L384.78 39.38 L384.84 38.05 L384.90 36.78 L384.96 35.58 L385.02 34.46 L385.08 33.43 L385.14 32.51 L385.20 31.69 L385.26 31.00 L385.33 30.43 L385.39 29.99 L385.45 29.69 L385.51 29.53 L385.57 29.51 L385.63 29.63 L385.69 29.89 L385.75 30.29 L385.81 30.83 L385.87 31.49 L385.93 32.27 L385.99 33.17 L386.05 34.17 L386.12 35.27 L386.18 36.45 L386.24 37.70 L386.30 39.01 L386.36 40.37 L386.42 41.76 L386.48 43.17 L386.54 44.59 L386.60 45.99 L386.66 47.38 L386.72 48.72 L386.78 50.02 L386.85 51.25 L386.91 52.40 L386.97 53.47 L387.03 54.44 L387.09 55.30 L387.15 56.05 L387.21 56.67 L387.27 57.17 L387.33 57.52 L387.39 57.74 L387.45 57.82 L387.51 57.76 L387.57 57.55 L387.64 57.21 L387.70 56.73 L387.76 56.12 L387.82 55.39 L387.88 54.54 L387.94 53.58 L388.00 52.52 L388.06 51.37 L388.12 50.15 L388.18 48.86 L388.24 47.52 L388.30 46.14 L388.36 44.74 L388.43 43.32 L388.49 41.91 L388.55 40.52 L388.61 39.15 L388.67 37.84 L388.73 36.58 L388.79 35.39 L388.85 34.28 L388.91 33.27 L388.97 32.36 L389.03 31.57 L389.09 30.89 L389.16 30.34 L389.22 29.93 L389.28 29.65 L389.34 29.52 L389.40 29.52 L389.46 29.67 L389.52 29.95 L389.58 30.37 L389.64 30.93 L389.70 31.61 L389.76 32.41 L389.82 33.33 L389.88 34.35 L389.95 35.46 L390.01 36.65 L390.07 37.92 L390.13 39.24 L390.19 40.60 L390.25 42.00 L390.31 43.41 L390.37 44.82 L390.43 46.23 L390.49 47.60 L390.55 48.94 L390.61 50.23 L390.67 51.45 L390.74 52.59 L390.80 53.64 L390.86 54.59 L390.92 55.44 L390.98 56.16 L391.04 56.76 L391.10 57.23 L391.16 57.57 L391.22 57.76 L391.28 57.82 L391.34 57.73 L391.40 57.50 L391.47 57.14 L391.53 56.64 L391.59 56.01 L391.65 55.25 L391.71 54.38 L391.77 53.41 L391.83 52.33 L391.89 51.17 L391.95 49.94 L392.01 48.64 L392.07 47.29 L392.13 45.91 L392.19 44.50 L392.26 43.08 L392.32 41.67 L392.38 40.28 L392.44 38.93 L392.50 37.62 L392.56 36.37 L392.62 35.20 L392.68 34.10 L392.74 33.11 L392.80 32.22 L392.86 31.44 L392.92 30.79 L392.98 30.26 L393.05 29.87 L393.11 29.62 L393.17 29.51 L393.23 29.53 L393.29 29.70 L393.35 30.01 L393.41 30.46 L393.47 31.03 L393.53 31.74 L393.59 32.56 L393.65 33.49 L393.71 34.53 L393.78 35.65 L393.84 36.86 L393.90 38.13 L393.96 39.46 L394.02 40.83 L394.08 42.23 L394.14 43.65 L394.20 45.06 L394.26 46.46 L394.32 47.83 L394.38 49.16 L394.44 50.44 L394.50 51.65 L394.57 52.77 L394.63 53.81 L394.69 54.74 L394.75 55.57 L394.81 56.27 L394.87 56.85 L394.93 57.30 L394.99 57.61 L395.05 57.78 L395.11 57.81 L395.17 57.70 L395.23 57.45 L395.30 57.06 L395.36 56.54 L395.42 55.89 L395.48 55.12 L395.54 54.23 L395.60 53.23 L395.66 52.14 L395.72 50.97 L395.78 49.72 L395.84 48.42 L395.90 47.06 L395.96 45.67 L396.02 44.26 L396.09 42.85 L396.15 41.44 L396.21 40.05 L396.27 38.70 L396.33 37.40 L396.39 36.17 L396.45 35.01 L396.51 33.93 L396.57 32.95 L396.63 32.08 L396.69 31.32 L396.75 30.69 L396.81 30.19 L396.88 29.82 L396.94 29.59 L397.00 29.50 L397.06 29.55 L397.12 29.75 L397.18 30.08 L397.24 30.55 L397.30 31.14 L397.36 31.87 L397.42 32.71 L397.48 33.66 L397.54 34.71 L397.61 35.85 L397.67 37.07 L397.73 38.35 L397.79 39.69 L397.85 41.07 L397.91 42.47 L397.97 43.89 L398.03 45.30 L398.09 46.69 L398.15 48.06 L398.21 49.38 L398.27 50.65 L398.33 51.84 L398.40 52.95 L398.46 53.97 L398.52 54.89 L398.58 55.70 L398.64 56.38 L398.70 56.94 L398.76 57.36 L398.82 57.65 L398.88 57.80 L398.94 57.81 L399.00 57.67 L399.06 57.40 L399.12 56.98 L399.19 56.44 L399.25 55.77 L399.31 54.97 L399.37 54.07 L399.43 53.06 L399.49 51.95 L399.55 50.77 L399.61 49.51 L399.67 48.19 L399.73 46.83 L399.79 45.43 L399.85 44.02 L399.92 42.61 L399.98 41.20 L400.04 39.82 L400.10 38.48 L400.16 37.19 L400.22 35.97 L400.28 34.82 L400.34 33.76 L400.40 32.80 L400.46 31.94 L400.52 31.21 L400.58 30.60 L400.64 30.12 L400.71 29.77 L400.77 29.57 L400.83 29.50 L400.89 29.58 L400.95 29.79 L401.01 30.15 L401.07 30.64 L401.13 31.26 L401.19 32.00 L401.25 32.86 L401.31 33.83 L401.37 34.90 L401.44 36.05 L401.50 37.28 L401.56 38.58 L401.62 39.92 L401.68 41.30 L401.74 42.71 L401.80 44.12 L401.86 45.53 L401.92 46.93 L401.98 48.29 L402.04 49.60 L402.10 50.85 L402.16 52.03 L402.23 53.13 L402.29 54.14 L402.35 55.03 L402.41 55.82 L402.47 56.48 L402.53 57.02 L402.59 57.42 L402.65 57.69 L402.71 57.81 L402.77 57.79 L402.83 57.63 L402.89 57.34 L402.95 56.90 L403.02 56.34 L403.08 55.64 L403.14 54.83 L403.20 53.90 L403.26 52.88 L403.32 51.76 L403.38 50.56 L403.44 49.29 L403.50 47.96 L403.56 46.60 L403.62 45.20 L403.68 43.79 L403.75 42.37 L403.81 40.97 L403.87 39.60 L403.93 38.26 L403.99 36.98 L404.05 35.77 L404.11 34.63 L404.17 33.59 L404.23 32.65 L404.29 31.81 L404.35 31.10 L404.41 30.51 L404.47 30.05 L404.54 29.73 L404.60 29.54 L404.66 29.50 L404.72 29.60 L404.78 29.84 L404.84 30.22 L404.90 30.73 L404.96 31.37 L405.02 32.14 L405.08 33.02 L405.14 34.00 L405.20 35.09 L405.26 36.25 L405.33 37.50 L405.39 38.80 L405.45 40.15 L405.51 41.54 L405.57 42.95 L405.63 44.36 L405.69 45.77 L405.75 47.16 L405.81 48.51 L405.87 49.81 L405.93 51.06 L405.99 52.22 L406.06 53.31 L406.12 54.29 L406.18 55.17 L406.24 55.94 L406.30 56.58 L406.36 57.10 L406.42 57.47 L406.48 57.72 L406.54 57.82 L406.60 57.78 L406.66 57.59 L406.72 57.27 L406.78 56.82 L406.85 56.23 L406.91 55.51 L406.97 54.68 L407.03 53.74 L407.09 52.70 L407.15 51.56 L407.21 50.35 L407.27 49.07 L407.33 47.74 L407.39 46.36 L407.45 44.96 L407.51 43.55 L407.57 42.13 L407.64 40.74 L407.70 39.37 L407.76 38.04 L407.82 36.77 L407.88 35.57 L407.94 34.45 L408.00 33.42 L408.06 32.50 L408.12 31.68 L408.18 30.99 L408.24 30.42 L408.30 29.99 L408.37 29.69 L408.43 29.53 L408.49 29.51 L408.55 29.63 L408.61 29.90 L408.67 30.30 L408.73 30.83 L408.79 31.49 L408.85 32.28 L408.91 33.18 L408.97 34.18 L409.03 35.28 L409.09 36.46 L409.16 37.71 L409.22 39.02 L409.28 40.38 L409.34 41.77 L409.40 43.18 L409.46 44.60 L409.52 46.01 L409.58 47.39 L409.64 48.73 L409.70 50.03 L409.76 51.26 L409.82 52.41 L409.89 53.48 L409.95 54.45 L410.01 55.31 L410.07 56.06 L410.13 56.68 L410.19 57.17 L410.25 57.53 L410.31 57.74 L410.37 57.82 L410.43 57.76 L410.49 57.55 L410.55 57.21 L410.61 56.73 L410.68 56.12 L410.74 55.38 L410.80 54.53 L410.86 53.57 L410.92 52.51 L410.98 51.36 L411.04 50.14 L411.10 48.85 L411.16 47.51 L411.22 46.13 L411.28 44.72 L411.34 43.31 L411.40 41.90 L411.47 40.50 L411.53 39.14 L411.59 37.82 L411.65 36.57 L411.71 35.38 L411.77 34.27 L411.83 33.26 L411.89 32.35 L411.95 31.56 L412.01 30.89 L412.07 30.34 L412.13 29.93 L412.20 29.65 L412.26 29.51 L412.32 29.52 L412.38 29.67 L412.44 29.95 L412.50 30.38 L412.56 30.93 L412.62 31.62 L412.68 32.42 L412.74 33.34 L412.80 34.36 L412.86 35.47 L412.92 36.66 L412.99 37.93 L413.05 39.25 L413.11 40.61 L413.17 42.01 L413.23 43.42 L413.29 44.84 L413.35 46.24 L413.41 47.62 L413.47 48.95 L413.53 50.24 L413.59 51.46 L413.65 52.60 L413.71 53.65 L413.78 54.60 L413.84 55.45 L413.90 56.17 L413.96 56.77 L414.02 57.24 L414.08 57.57 L414.14 57.77 L414.20 57.82 L414.26 57.73 L414.32 57.50 L414.38 57.13 L414.44 56.63 L414.51 56.00 L414.57 55.25 L414.63 54.38 L414.69 53.40 L414.75 52.32 L414.81 51.16 L414.87 49.93 L414.93 48.63 L414.99 47.28 L415.05 45.89 L415.11 44.49 L415.17 43.07 L415.23 41.66 L415.30 40.27 L415.36 38.92 L415.42 37.61 L415.48 36.36 L415.54 35.19 L415.60 34.10 L415.66 33.10 L415.72 32.21 L415.78 31.44 L415.84 30.78 L415.90 30.26 L415.96 29.87 L416.02 29.62 L416.09 29.51 L416.15 29.54 L416.21 29.71 L416.27 30.02 L416.33 30.46 L416.39 31.04 L416.45 31.74 L416.51 32.57 L416.57 33.50 L416.63 34.54 L416.69 35.66 L416.75 36.87 L416.82 38.15 L416.88 39.48 L416.94 40.85 L417.00 42.25 L417.06 43.66 L417.12 45.07 L417.18 46.47 L417.24 47.84 L417.30 49.17 L417.36 50.45 L417.42 51.66 L417.48 52.78 L417.54 53.82 L417.61 54.75 L417.67 55.58 L417.73 56.28 L417.79 56.86 L417.85 57.30 L417.91 57.61 L417.97 57.78 L418.03 57.81 L418.09 57.70 L418.15 57.45 L418.21 57.06 L418.27 56.54 L418.34 55.88 L418.40 55.11 L418.46 54.22 L418.52 53.22 L418.58 52.13 L418.64 50.96 L418.70 49.71 L418.76 48.40 L418.82 47.05 L418.88 45.66 L418.94 44.25 L419.00 42.83 L419.06 41.43 L419.13 40.04 L419.19 38.69 L419.25 37.39 L419.31 36.16 L419.37 35.00 L419.43 33.92 L419.49 32.94 L419.55 32.07 L419.61 31.32 L419.67 30.69 L419.73 30.19 L419.79 29.82 L419.85 29.59 L419.92 29.50 L419.98 29.55 L420.04 29.75 L420.10 30.08 L420.16 30.55 L420.22 31.15 L420.28 31.88 L420.34 32.72 L420.40 33.67 L420.46 34.72 L420.52 35.86 L420.58 37.08 L420.65 38.37 L420.71 39.70 L420.77 41.08 L420.83 42.48 L420.89 43.90 L420.95 45.31 L421.01 46.71 L421.07 48.07 L421.13 49.39 L421.19 50.66 L421.25 51.85 L421.31 52.96 L421.37 53.98 L421.44 54.90 L421.50 55.70 L421.56 56.39 L421.62 56.94 L421.68 57.37 L421.74 57.65 L421.80 57.80 L421.86 57.80 L421.92 57.67 L421.98 57.39 L422.04 56.98 L422.10 56.43 L422.16 55.76 L422.23 54.97 L422.29 54.06 L422.35 53.05 L422.41 51.94 L422.47 50.75 L422.53 49.50 L422.59 48.18 L422.65 46.82 L422.71 45.42 L422.77 44.01 L422.83 42.60 L422.89 41.19 L422.96 39.81 L423.02 38.47 L423.08 37.18 L423.14 35.96 L423.20 34.81 L423.26 33.75 L423.32 32.79 L423.38 31.94 L423.44 31.20 L423.50 30.59 L423.56 30.11 L423.62 29.77 L423.68 29.56 L423.75 29.50 L423.81 29.58 L423.87 29.79 L423.93 30.15 L423.99 30.64 L424.05 31.26 L424.11 32.01 L424.17 32.87 L424.23 33.84 L424.29 34.91 L424.35 36.06 L424.41 37.29 L424.48 38.59 L424.54 39.93 L424.60 41.32 L424.66 42.72 L424.72 44.14 L424.78 45.55 L424.84 46.94 L424.90 48.30 L424.96 49.61 L425.02 50.86 L425.08 52.04 L425.14 53.14 L425.20 54.14 L425.27 55.04 L425.33 55.83 L425.39 56.49 L425.45 57.02 L425.51 57.42 L425.57 57.69 L425.63 57.81 L425.69 57.79 L425.75 57.63 L425.81 57.33 L425.87 56.90 L425.93 56.33 L425.99 55.64 L426.06 54.82 L426.12 53.90 L426.18 52.87 L426.24 51.75 L426.30 50.55 L426.36 49.28 L426.42 47.95 L426.48 46.58 L426.54 45.19 L426.60 43.77 L426.66 42.36 L426.72 40.96 L426.79 39.58 L426.85 38.25 L426.91 36.97 L426.97 35.76 L427.03 34.62 L427.09 33.58 L427.15 32.64 L427.21 31.81 L427.27 31.09 L427.33 30.50 L427.39 30.05 L427.45 29.73 L427.51 29.54 L427.58 29.50 L427.64 29.60 L427.70 29.85 L427.76 30.22 L427.82 30.74 L427.88 31.38 L427.94 32.15 L428.00 33.03 L428.06 34.01 L428.12 35.10 L428.18 36.26 L428.24 37.51 L428.30 38.81 L428.37 40.16 L428.43 41.55 L428.49 42.96 L428.55 44.37 L428.61 45.78 L428.67 47.17 L428.73 48.52 L428.79 49.82 L428.85 51.07 L428.91 52.23 L428.97 53.32 L429.03 54.30 L429.10 55.18 L429.16 55.95 L429.22 56.59 L429.28 57.10 L429.34 57.48 L429.40 57.72 L429.46 57.82 L429.52 57.78 L429.58 57.59 L429.64 57.27 L429.70 56.81 L429.76 56.22 L429.82 55.51 L429.89 54.67 L429.95 53.73 L430.01 52.69 L430.07 51.55 L430.13 50.34 L430.19 49.06 L430.25 47.72 L430.31 46.35 L430.37 44.95 L430.43 43.53 L430.49 42.12 L430.55 40.72 L430.62 39.36 L430.68 38.03 L430.74 36.76 L430.80 35.56 L430.86 34.44 L430.92 33.42 L430.98 32.49 L431.04 31.68 L431.10 30.98 L431.16 30.42 L431.22 29.98 L431.28 29.69 L431.34 29.53 L431.41 29.51 L431.47 29.63 L431.53 29.90 L431.59 30.30 L431.65 30.84 L431.71 31.50 L431.77 32.29 L431.83 33.18 L431.89 34.19 L431.95 35.29 L432.01 36.47 L432.07 37.72 L432.13 39.04 L432.20 40.39 L432.26 41.79 L432.32 43.20 L432.38 44.61 L432.44 46.02 L432.50 47.40 L432.56 48.74 L432.62 50.04 L432.68 51.27 L432.74 52.42 L432.80 53.49 L432.86 54.46 L432.93 55.32 L432.99 56.06 L433.05 56.68 L433.11 57.17 L433.17 57.53 L433.23 57.74 L433.29 57.82 L433.35 57.75 L433.41 57.55 L433.47 57.20 L433.53 56.72 L433.59 56.11 L433.65 55.37 L433.72 54.52 L433.78 53.56 L433.84 52.50 L433.90 51.35 L433.96 50.13 L434.02 48.84 L434.08 47.50 L434.14 46.12 L434.20 44.71 L434.26 43.30 L434.32 41.89 L434.38 40.49 L434.44 39.13 L434.51 37.81 L434.57 36.55 L434.63 35.37 L434.69 34.26 L434.75 33.25 L434.81 32.35 L434.87 31.55 L434.93 30.88 L434.99 30.33 L435.05 29.92 L435.11 29.65 L435.17 29.51 L435.24 29.52 L435.30 29.67 L435.36 29.96 L435.42 30.38 L435.48 30.94 L435.54 31.62 L435.60 32.43 L435.66 33.35 L435.72 34.37 L435.78 35.48 L435.84 36.67 L435.90 37.94 L435.96 39.26 L436.03 40.63 L436.09 42.02 L436.15 43.43 L436.21 44.85 L436.27 46.25 L436.33 47.63 L436.39 48.97 L436.45 50.25 L436.51 51.47 L436.57 52.61 L436.63 53.66 L436.69 54.61 L436.75 55.45 L436.82 56.18 L436.88 56.77 L436.94 57.24 L437.00 57.57 L437.06 57.77 L437.12 57.82 L437.18 57.73 L437.24 57.50 L437.30 57.13 L437.36 56.63 L437.42 56.00 L437.48 55.24 L437.55 54.37 L437.61 53.39 L437.67 52.31 L437.73 51.15 L437.79 49.91 L437.85 48.62 L437.91 47.27 L437.97 45.88 L438.03 44.47 L438.09 43.06 L438.15 41.65 L438.21 40.26 L438.27 38.90 L438.34 37.60 L438.40 36.35 L438.46 35.18 L438.52 34.09 L438.58 33.09 L438.64 32.20 L438.70 31.43 L438.76 30.78 L438.82 30.26 L438.88 29.87 L438.94 29.62 L439.00 29.51 L439.07 29.54 L439.13 29.71 L439.19 30.02 L439.25 30.47 L439.31 31.05 L439.37 31.75 L439.43 32.58 L439.49 33.51 L439.55 34.55 L439.61 35.68 L439.67 36.88 L439.73 38.16 L439.79 39.49 L439.86 40.86 L439.92 42.26 L439.98 43.67 L440.04 45.09 L440.10 46.49 L440.16 47.86 L440.22 49.19 L440.28 50.46 L440.34 51.67 L440.40 52.79 L440.46 53.83 L440.52 54.76 L440.58 55.58 L440.65 56.29 L440.71 56.86 L440.77 57.31 L440.83 57.62 L440.89 57.79 L440.95 57.81 L441.01 57.70 L441.07 57.45 L441.13 57.06 L441.19 56.53 L441.25 55.88 L441.31 55.10 L441.38 54.21 L441.44 53.22 L441.50 52.12 L441.56 50.95 L441.62 49.70 L441.68 48.39 L441.74 47.04 L441.80 45.65 L441.86 44.24 L441.92 42.82 L441.98 41.41 L442.04 40.03 L442.10 38.68 L442.17 37.38 L442.23 36.15 L442.29 34.99 L442.35 33.91 L442.41 32.94 L442.47 32.07 L442.53 31.31 L442.59 30.68 L442.65 30.18 L442.71 29.82 L442.77 29.59 L442.83 29.50 L442.89 29.56 L442.96 29.75 L443.02 30.09 L443.08 30.56 L443.14 31.16 L443.20 31.88 L443.26 32.73 L443.32 33.68 L443.38 34.73 L443.44 35.87 L443.50 37.09 L443.56 38.38 L443.62 39.72 L443.69 41.09 L443.75 42.50 L443.81 43.91 L443.87 45.32 L443.93 46.72 L443.99 48.08 L444.05 49.40 L444.11 50.67 L444.17 51.86 L444.23 52.97 L444.29 53.99 L444.35 54.91 L444.41 55.71 L444.48 56.39 L444.54 56.95 L444.60 57.37 L444.66 57.65 L444.72 57.80 L444.78 57.80 L444.84 57.67 L444.90 57.39 L444.96 56.98 L445.02 56.43 L445.08 55.75 L445.14 54.96 L445.21 54.05 L445.27 53.04 L445.33 51.93 L445.39 50.74 L445.45 49.48 L445.51 48.17 L445.57 46.80 L445.63 45.41 L445.69 44.00 L445.75 42.58 L445.81 41.18 L445.87 39.80 L445.93 38.46 L446.00 37.17 L446.06 35.95 L446.12 34.80 L446.18 33.74 L446.24 32.78 L446.30 31.93 L446.36 31.20 L446.42 30.59 L446.48 30.11 L446.54 29.77 L446.60 29.56 L446.66 29.50 L446.72 29.58 L446.79 29.80 L446.85 30.15 L446.91 30.65 L446.97 31.27 L447.03 32.02 L447.09 32.88 L447.15 33.85 L447.21 34.92 L447.27 36.07 L447.33 37.30 L447.39 38.60 L447.45 39.94 L447.52 41.33 L447.58 42.73 L447.64 44.15 L447.70 45.56 L447.76 46.95 L447.82 48.31 L447.88 49.62 L447.94 50.87 L448.00 52.05 L448.06 53.15 L448.12 54.15 L448.18 55.05 L448.24 55.83 L448.31 56.49 L448.37 57.03 L448.43 57.43 L448.49 57.69 L448.55 57.81 L448.61 57.79 L448.67 57.63 L448.73 57.33 L448.79 56.89 L448.85 56.32 L448.91 55.63 L448.97 54.81 L449.03 53.89 L449.10 52.86 L449.16 51.74 L449.22 50.54 L449.28 49.27 L449.34 47.94 L449.40 46.57 L449.46 45.17 L449.52 43.76 L449.58 42.35 L449.64 40.94 L449.70 39.57 L449.76 38.24 L449.83 36.96 L449.89 35.75 L449.95 34.61 L450.01 33.57 L450.07 32.63 L450.13 31.80 L450.19 31.09 L450.25 30.50 L450.31 30.04 L450.37 29.72 L450.43 29.54 L450.49 29.50 L450.55 29.61 L450.62 29.85 L450.68 30.23 L450.74 30.74 L450.80 31.39 L450.86 32.15 L450.92 33.03 L450.98 34.02 L451.04 35.11 L451.10 36.28 L451.16 37.52 L451.22 38.82 L451.28 40.18 L451.34 41.56 L451.41 42.97 L451.47 44.39 L451.53 45.79 L451.59 47.18 L451.65 48.53 L451.71 49.84 L451.77 51.08 L451.83 52.24 L451.89 53.33 L451.95 54.31 L452.01 55.19 L452.07 55.95 L452.14 56.59 L452.20 57.10 L452.26 57.48 L452.32 57.72 L452.38 57.82 L452.44 57.77 L452.50 57.59" stroke="#ff4500" stroke-width="1.3" fill="none" stroke-linejoin="round"/>
<path d="M306.60 86.14L330.92 86.14L379.55 43.66L452.50 43.66" stroke="#0000ff" stroke-width="1.45" fill="none"/>
<g stroke="#000" stroke-width="1" fill="none">
<path d="M331.1 29.5V100.3M379.5 29.5V100.3"/>
<rect x="306.6" y="29.5" width="145.90" height="70.80"/>
</g>
<text transform="translate(285.91 104.30) scale(1.070 1.05)" style="font-size:14.67px">-1</text>
<text transform="translate(290.78 90.14) scale(1.070 1.05)" style="font-size:14.67px">0</text>
<text transform="translate(291.09 75.98) scale(1.070 1.05)" style="font-size:14.67px">1</text>
<text transform="translate(291.01 61.82) scale(1.070 1.05)" style="font-size:14.67px">2</text>
<text transform="translate(290.78 47.66) scale(1.070 1.05)" style="font-size:14.67px">3</text>
<text transform="translate(290.39 33.50) scale(1.070 1.05)" style="font-size:14.67px">4</text>
<text transform="translate(305.13 120.00) scale(1.070 1.05)" style="font-size:14.67px">0</text>
<text transform="translate(325.13 120.00) scale(1.070 1.05)" style="font-size:14.67px">10</text>
<text transform="translate(349.80 120.00) scale(1.070 1.05)" style="font-size:14.67px">20</text>
<text transform="translate(374.07 120.00) scale(1.070 1.05)" style="font-size:14.67px">30</text>
<text transform="translate(398.63 120.00) scale(1.070 1.05)" style="font-size:14.67px">40</text>
<text transform="translate(422.63 120.00) scale(1.070 1.05)" style="font-size:14.67px">50</text>
<text transform="translate(447.06 120.00) scale(1.070 1.05)" style="font-size:14.67px">60</text>
<text transform="translate(377.20 141.60) scale(1.120 1)" style="font-size:14.67px">t</text>
<text transform="translate(314.24 47.90) scale(1.145 1.14)" style="font-size:14.67px" class="i">t</text>
<text transform="translate(319.33 49.80) scale(1.185 1)" style="font-size:10.5px" class="i">di</text>
<text transform="translate(381.45 89.80) scale(1.282 1.14)" style="font-size:14.67px" class="i">t</text>
<text transform="translate(387.27 91.90) scale(1.063 1)" style="font-size:10.5px" class="i">df</text>
</svg></body></html>
